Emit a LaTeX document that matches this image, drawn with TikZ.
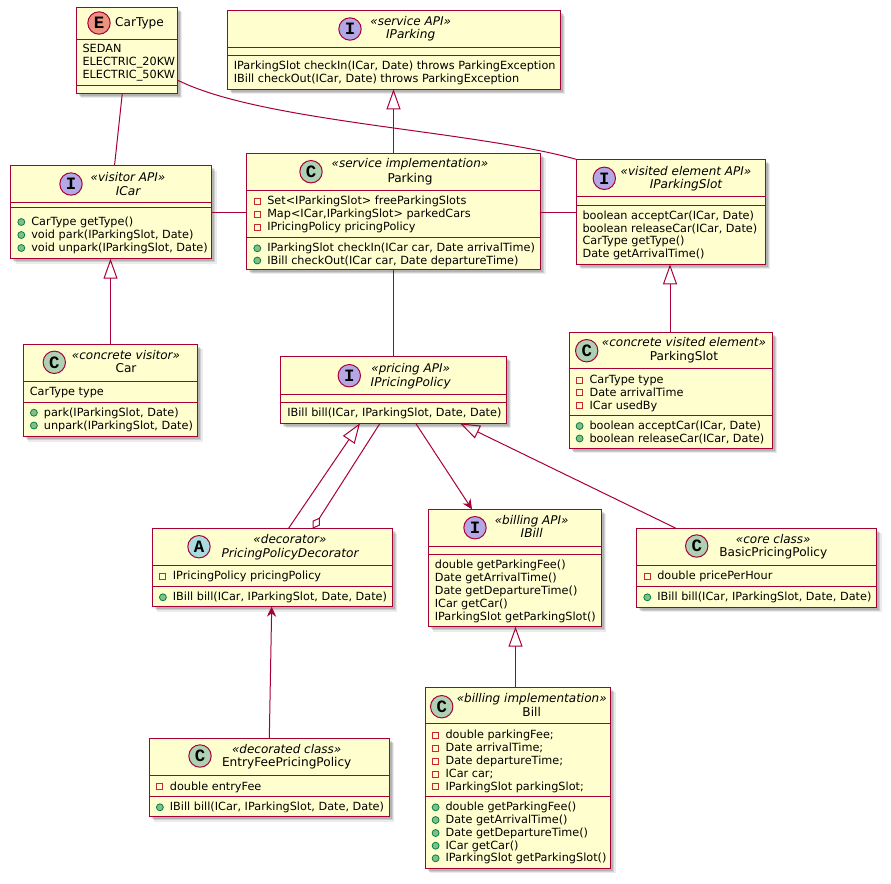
\documentclass[tikz,border=0pt]{standalone}
\usepackage{fontspec}
\setmainfont{DejaVu Sans}
\newfontfamily\letterfont{Liberation Mono}
\usetikzlibrary{arrows.meta,shadows,fit,calc}

\definecolor{umlfill}{HTML}{FEFECE}
\definecolor{umlborder}{HTML}{A80036}
\definecolor{cC}{HTML}{ADD1B2}
\definecolor{cI}{HTML}{B4A7E5}
\definecolor{cA}{HTML}{A9DCDF}
\definecolor{cE}{HTML}{EB937F}
\definecolor{privc}{HTML}{C82930}
\definecolor{pubfill}{HTML}{84BE84}
\definecolor{pubdraw}{HTML}{038048}

% horizontal compartment separator: x1, x2, y
\newcommand\hsep[3]{\draw[sepline] (#1,#3) -- (#2,#3);}
% member lines: node name, left edge of the class box, y, text
\newcommand\pubm[4]{%
  \node[pubdot] (#1-m) at ({#2+10.6},#3) {};
  \node[membtext] (#1) at ({#2+20.3},#3) {#4};}
\newcommand\privm[4]{%
  \node[privbox] (#1-m) at ({#2+10.6},#3) {};
  \node[membtext] (#1) at ({#2+20.3},#3) {#4};}
\newcommand\plainm[4]{%
  \node[membtext] (#1) at ({#2+6.3},#3) {#4};}

\begin{document}
\begin{tikzpicture}[x=0.75pt,y=-0.75pt,
  umlbox/.style={draw=umlborder, line width=1pt, fill=umlfill,
    inner sep=0pt, outer sep=0pt,
    drop shadow={shadow xshift=1.8pt, shadow yshift=-1.8pt, opacity=0.12, fill=black},
    drop shadow={shadow xshift=2.8pt, shadow yshift=-2.8pt, opacity=0.12, fill=black},
    drop shadow={shadow xshift=3.8pt, shadow yshift=-3.8pt, opacity=0.08, fill=black}},
  sepline/.style={draw=umlborder, line width=1pt},
  hcirc/.style={circle, draw=umlborder, line width=0.75pt, minimum size=16.8pt,
    inner sep=0pt, font=\letterfont\bfseries\fontsize{13pt}{13pt}\selectfont},
  stereo/.style={anchor=mid, inner sep=0pt, font=\fontsize{9pt}{11pt}\selectfont\itshape},
  cname/.style={anchor=mid, inner sep=0pt, font=\fontsize{9.1pt}{11pt}\selectfont},
  iname/.style={cname, font=\fontsize{9.1pt}{11pt}\selectfont\itshape},
  membtext/.style={anchor=mid west, inner sep=0pt, font=\fontsize{8.45pt}{10pt}\selectfont},
  privbox/.style={draw=privc, line width=0.7pt, minimum size=4.5pt, inner sep=0pt},
  pubdot/.style={circle, draw=pubdraw, fill=pubfill, line width=0.6pt,
    minimum size=5.2pt, inner sep=0pt},
  conn/.style={draw=umlborder, line width=0.75pt},
  realize/.style={conn, -{Triangle[open, length=15pt, width=10.5pt]}},
  arrowto/.style={conn, -{Stealth[length=7.5pt, width=7pt, inset=2.5pt]}},
  aggr/.style={conn, -{Diamond[open, length=10pt, width=6.5pt]}},
]
\fill[white] (0,0) rectangle (891,883);
\useasboundingbox (0,0) rectangle (891,883);

% ---------- CarType ----------
\node[umlbox, fit={(76.3,7.3) (177.3,93.3)}] (cartype) {};
\hsep{76.3}{177.3}{39.3}\hsep{76.3}{177.3}{85.3}
\node[hcirc, fill=cE] (cartype-c) at (99,23) {E};
\node[cname] (cartype-n) at (139.5,23) {CarType};
\plainm{cartype-a1}{76}{49}{SEDAN}
\plainm{cartype-a2}{76}{62}{ELECTRIC\_20KW}
\plainm{cartype-a3}{76}{75}{ELECTRIC\_50KW}

% ---------- IParking ----------
\node[umlbox, fit={(227.3,10.7) (560.3,89.3)}] (iparking) {};
\hsep{227.3}{560.3}{47.7}\hsep{227.3}{560.3}{55.3}
\node[hcirc, fill=cI] (iparking-c) at (350,29) {I};
\node[stereo] (iparking-s) at (410.7,21.7) {«service API»};
\node[iname] (iparking-n) at (410.7,35) {IParking};
\plainm{iparking-o1}{227.3}{66}{IParkingSlot checkIn(ICar, Date) throws ParkingException}
\plainm{iparking-o2}{227.3}{79}{IBill checkOut(ICar, Date) throws ParkingException}

% ---------- ICar ----------
\node[umlbox, fit={(10.7,165.7) (211.7,258.7)}] (icar) {};
\hsep{10.7}{211.7}{202.3}\hsep{10.7}{211.7}{207.5}
\node[hcirc, fill=cI] (icar-c) at (71,184) {I};
\node[stereo] (icar-s) at (128,178) {«visitor API»};
\node[iname] (icar-n) at (128,192) {ICar};
\pubm{icar-o1}{10.7}{222}{CarType getType()}
\pubm{icar-o2}{10.7}{235}{void park(IParkingSlot, Date)}
\pubm{icar-o3}{10.7}{248}{void unpark(IParkingSlot, Date)}

% ---------- Parking ----------
\node[umlbox, fit={(246.7,153.3) (540.7,269.3)}] (parking) {};
\hsep{246.7}{540.7}{190.7}\hsep{246.7}{540.7}{237.7}
\node[hcirc, fill=cC] (parking-c) at (311,171.7) {C};
\node[stereo] (parking-s) at (410,164.3) {«service implementation»};
\node[cname] (parking-n) at (410,179) {Parking};
\privm{parking-a1}{246.7}{201}{Set<IParkingSlot> freeParkingSlots}
\privm{parking-a2}{246.7}{214}{Map<ICar,IParkingSlot> parkedCars}
\privm{parking-a3}{246.7}{227}{IPricingPolicy pricingPolicy}
\pubm{parking-o1}{246.7}{248.3}{IParkingSlot checkIn(ICar car, Date arrivalTime)}
\pubm{parking-o2}{246.7}{260.5}{IBill checkOut(ICar car, Date departureTime)}

% ---------- IParkingSlot ----------
\node[umlbox, fit={(576.3,159.3) (765.3,264.3)}] (iparkingslot) {};
\hsep{576.3}{765.3}{196.7}\hsep{576.3}{765.3}{205.3}
\node[hcirc, fill=cI] (iparkingslot-c) at (604.3,178.3) {I};
\node[stereo] (iparkingslot-s) at (686,171.7) {«visited element API»};
\node[iname] (iparkingslot-n) at (686,185) {IParkingSlot};
\plainm{iparkingslot-o1}{576}{216}{boolean acceptCar(ICar, Date)}
\plainm{iparkingslot-o2}{576}{228.5}{boolean releaseCar(ICar, Date)}
\plainm{iparkingslot-o3}{576}{241}{CarType getType()}
\plainm{iparkingslot-o4}{576}{254}{Date getArrivalTime()}

% ---------- ParkingSlot ----------
\node[umlbox, fit={(569.3,332.3) (772.3,448.3)}] (parkingslot) {};
\hsep{569.3}{772.3}{368.3}\hsep{569.3}{772.3}{415.7}
\node[hcirc, fill=cC] (parkingslot-c) at (586.7,350.7) {C};
\node[stereo] (parkingslot-s) at (684,343.3) {«concrete visited element»};
\node[cname] (parkingslot-n) at (684,356.7) {ParkingSlot};
\privm{parkingslot-a1}{569}{380}{CarType type}
\privm{parkingslot-a2}{569}{392.7}{Date arrivalTime}
\privm{parkingslot-a3}{569}{405.5}{ICar usedBy}
\pubm{parkingslot-o1}{569}{426}{boolean acceptCar(ICar, Date)}
\pubm{parkingslot-o2}{569}{438.5}{boolean releaseCar(ICar, Date)}

% ---------- Car ----------
\node[umlbox, fit={(23.3,344.3) (197.7,436.7)}] (car) {};
\hsep{23.3}{197.7}{381.7}\hsep{23.3}{197.7}{402.3}
\node[hcirc, fill=cC] (car-c) at (54.3,362.3) {C};
\node[stereo] (car-s) at (126,355.7) {«concrete visitor»};
\node[cname] (car-n) at (126,369.3) {Car};
\plainm{car-a1}{23.3}{392.3}{CarType type}
\pubm{car-o1}{23.3}{412.7}{park(IParkingSlot, Date)}
\pubm{car-o2}{23.3}{425.5}{unpark(IParkingSlot, Date)}

% ---------- IPricingPolicy ----------
\node[umlbox, fit={(280.7,356.3) (506.3,423.3)}] (ipricing) {};
\hsep{280.7}{506.3}{394.3}\hsep{280.7}{506.3}{402.3}
\node[hcirc, fill=cI] (ipricing-c) at (349.3,375.7) {I};
\node[stereo] (ipricing-s) at (410.7,369) {«pricing API»};
\node[iname] (ipricing-n) at (410.7,382.7) {IPricingPolicy};
\plainm{ipricing-o1}{280.7}{412.7}{IBill bill(ICar, IParkingSlot, Date, Date)}

% ---------- PricingPolicyDecorator ----------
\node[umlbox, fit={(152.3,528.7) (392.3,606.7)}] (decorator) {};
\hsep{152.3}{392.3}{565.7}\hsep{152.3}{392.3}{586.7}
\node[hcirc, fill=cA] (decorator-c) at (199,546.7) {A};
\node[stereo] (decorator-s) at (290,540) {«decorator»};
\node[iname] (decorator-n) at (290,554) {PricingPolicyDecorator};
\privm{decorator-a1}{152.3}{576}{IPricingPolicy pricingPolicy}
\pubm{decorator-o1}{152.3}{597.3}{IBill bill(ICar, IParkingSlot, Date, Date)}

% ---------- IBill ----------
\node[umlbox, fit={(428.3,509.3) (601.3,626.7)}] (ibill) {};
\hsep{428.3}{601.3}{546.7}\hsep{428.3}{601.3}{554.3}
\node[hcirc, fill=cI] (ibill-c) at (475,527.7) {I};
\node[stereo] (ibill-s) at (531.7,521) {«billing API»};
\node[iname] (ibill-n) at (531.7,534.3) {IBill};
\plainm{ibill-o1}{428.3}{565}{double getParkingFee()}
\plainm{ibill-o2}{428.3}{578}{Date getArrivalTime()}
\plainm{ibill-o3}{428.3}{590.7}{Date getDepartureTime()}
\plainm{ibill-o4}{428.3}{603.7}{ICar getCar()}
\plainm{ibill-o5}{428.3}{616.5}{IParkingSlot getParkingSlot()}

% ---------- BasicPricingPolicy ----------
\node[umlbox, fit={(636.7,528.3) (876.7,607.3)}] (basic) {};
\hsep{636.7}{876.7}{565.7}\hsep{636.7}{876.7}{586.7}
\node[hcirc, fill=cC] (basic-c) at (696.7,546) {C};
\node[stereo] (basic-s) at (773.3,540) {«core class»};
\node[cname] (basic-n) at (773.3,553.3) {BasicPricingPolicy};
\privm{basic-a1}{636.7}{576}{double pricePerHour}
\pubm{basic-o1}{636.7}{597.3}{IBill bill(ICar, IParkingSlot, Date, Date)}

% ---------- EntryFeePricingPolicy ----------
\node[umlbox, fit={(149.3,738.3) (389.3,816.7)}] (entry) {};
\hsep{149.3}{389.3}{775.7}\hsep{149.3}{389.3}{796.7}
\node[hcirc, fill=cC] (entry-c) at (200,756) {C};
\node[stereo] (entry-s) at (286.7,750) {«decorated class»};
\node[cname] (entry-n) at (286.7,763.3) {EntryFeePricingPolicy};
\privm{entry-a1}{149.3}{786.7}{double entryFee}
\pubm{entry-o1}{149.3}{807.3}{IBill bill(ICar, IParkingSlot, Date, Date)}

% ---------- Bill ----------
\node[umlbox, fit={(425.3,687.3) (610.7,868.3)}] (bill) {};
\hsep{425.3}{610.7}{723.3}\hsep{425.3}{610.7}{796.7}
\node[hcirc, fill=cC] (bill-c) at (441.7,706.7) {C};
\node[stereo] (bill-s) at (531.7,699.3) {«billing implementation»};
\node[cname] (bill-n) at (531.7,712.7) {Bill};
\privm{bill-a1}{425}{735}{double parkingFee;}
\privm{bill-a2}{425}{748}{Date arrivalTime;}
\privm{bill-a3}{425}{761}{Date departureTime;}
\privm{bill-a4}{425}{774}{ICar car;}
\privm{bill-a5}{425}{786.5}{IParkingSlot parkingSlot;}
\pubm{bill-o1}{425}{807.3}{double getParkingFee()}
\pubm{bill-o2}{425}{820}{Date getArrivalTime()}
\pubm{bill-o3}{425}{833}{Date getDepartureTime()}
\pubm{bill-o4}{425}{845.7}{ICar getCar()}
\pubm{bill-o5}{425}{858.3}{IParkingSlot getParkingSlot()}

% ---------- relations ----------
\draw[conn] ($(cartype.south west)+(46,0)$) -- ($(icar.north west)+(103.8,0)$);
\draw[conn] ($(cartype.north east)+(0,72.7)$) .. controls +(83.3,42) and +(-106,-29.3) .. (iparkingslot.north west);
\draw[conn] ($(icar.north east)+(0,46.8)$) -- ($(parking.north west)+(0,59.2)$);
\draw[conn] ($(parking.north east)+(0,59.2)$) -- ($(iparkingslot.north west)+(0,53.2)$);
\draw[realize] ($(parking.north west)+(146.8,0)$) -- ($(iparking.south west)+(166.2,0)$);
\draw[realize] ($(car.north west)+(87.2,0)$) -- ($(icar.south west)+(99.8,0)$);
\draw[realize] ($(parkingslot.north west)+(100.7,0)$) -- ($(iparkingslot.south west)+(93.7,0)$);
\draw[conn] ($(parking.south west)+(146.8,0)$) -- ($(ipricing.north west)+(112.8,0)$);
\draw[realize] ($(decorator.north west)+(136,0)$) -- ($(ipricing.south west)+(79.3,0)$);
\draw[aggr] ($(ipricing.south west)+(99.3,0)$) -- ($(decorator.north west)+(160.4,0)$);
\draw[arrowto] ($(ipricing.south west)+(135,0)$) -- ($(ibill.north west)+(43.7,0)$);
\draw[realize] ($(basic.north west)+(39.3,0)$) -- ($(ipricing.south west)+(179.3,0)$);
\draw[arrowto] ($(entry.north west)+(120,0)$) -- ($(decorator.south west)+(119.4,0)$);
\draw[realize] ($(bill.north west)+(90.2,0)$) -- ($(ibill.south west)+(87.2,0)$);
\end{tikzpicture}
\end{document}
